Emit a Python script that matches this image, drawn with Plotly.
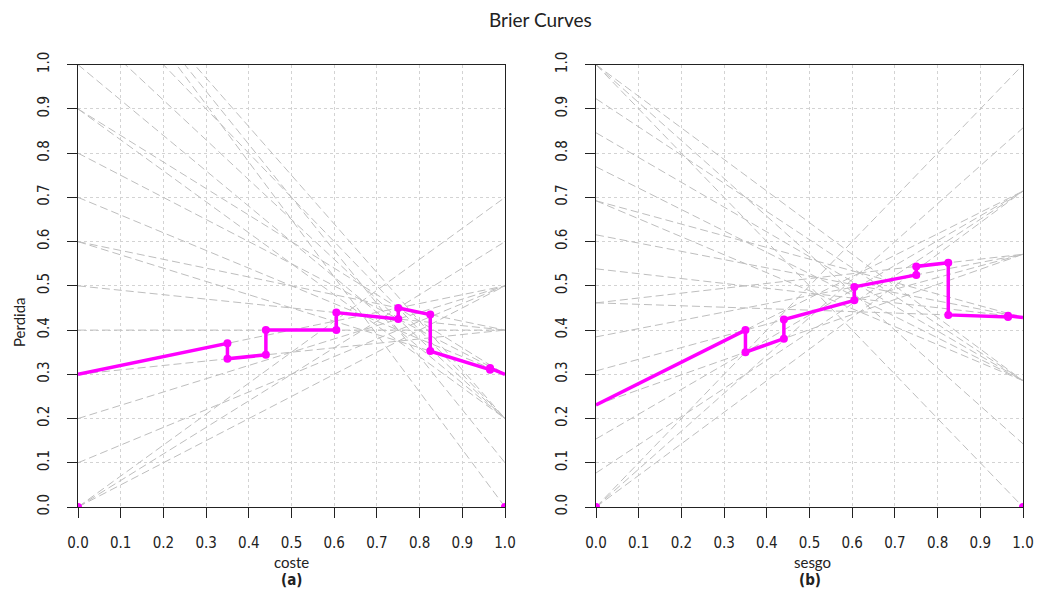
import plotly.graph_objects as go

# Example scores and their true classes (1 = positive), ordered by score
scores = [0, 0, 0, 0, 0, 0.35, 0.44, 0.605, 0.75, 0.825, 0.965, 1, 1, 1, 1, 1, 1, 1, 1, 1]
labels = [0, 0, 1, 1, 1, 0, 1, 1, 1, 0, 1, 1, 1, 0, 1, 1, 1, 1, 0, 0]

tick_vals = [0.0, 0.1, 0.2, 0.3, 0.4, 0.5, 0.6, 0.7, 0.8, 0.9, 1.0]
tick_text = ["0.0", "0.1", "0.2", "0.3", "0.4", "0.5", "0.6", "0.7", "0.8", "0.9", "1.0"]

n = len(labels)
n1 = sum(labels)
n0 = n - n1

W, H = 1037, 594
LEFT_X = (78, 505)
RIGHT_X = (596, 1023)
PLOT_Y = (64.7, 507)

GRAY = "#BEBEBE"
MAGENTA = "#FF00FF"
NARROW = "Liberation Sans Narrow, DejaVu Sans Condensed, Arial Narrow, Liberation Sans, Arial"
TICK_FONT = dict(family=NARROW, size=15, color="#222")
LABEL_FONT = "Lato, Open Sans, sans-serif"


def px_x(a, b):
    return [a / W, b / W]


def px_y(top, bottom):
    return [(H - bottom) / H, (H - top) / H]


# cumulative counts along the ranking: positives below / negatives above each cut
pos_below = [0]
neg_above = [n0]
for lab in labels:
    if lab == 1:
        pos_below.append(pos_below[-1] + 1)
        neg_above.append(neg_above[-1])
    else:
        pos_below.append(pos_below[-1])
        neg_above.append(neg_above[-1] - 1)


def cost_loss(c, k, j):
    return (1 - c) * 2 * k / n + c * 2 * j / n


def skew_loss(z, k, j):
    return (1 - z) * k / n1 + z * j / n0


def brier_curve(loss):
    uniq = sorted(set(scores))
    xs, ys, mx, my = [], [], [], []
    for i in range(len(uniq) - 1):
        t0, t1 = uniq[i], uniq[i + 1]
        k = sum(1 for s, l in zip(scores, labels) if l == 1 and s <= t0)
        j = sum(1 for s, l in zip(scores, labels) if l == 0 and s > t0)
        xs += [t0, t1]
        ys += [loss(t0, k, j), loss(t1, k, j)]
        if i > 0:
            mx.append(t0)
            my.append(loss(t0, k, j))
        if i < len(uniq) - 2:
            mx.append(t1)
            my.append(loss(t1, k, j))
    # curve values at the extremes of the threshold range
    k0 = sum(1 for s, l in zip(scores, labels) if l == 1 and s < uniq[0])
    j0 = sum(1 for s, l in zip(scores, labels) if l == 0 and s > uniq[0])
    k1 = sum(1 for s, l in zip(scores, labels) if l == 1 and s < uniq[-1])
    j1 = sum(1 for s, l in zip(scores, labels) if l == 0 and s > uniq[-1])
    mx += [uniq[0], uniq[-1]]
    my += [loss(uniq[0], k0, j0), loss(uniq[-1], k1, j1)]
    return xs, ys, mx, my


fig = go.Figure()

panels = [("x", "y", cost_loss), ("x2", "y2", skew_loss)]
for xa, ya, loss in panels:
    for k, j in zip(pos_below, neg_above):
        fig.add_trace(go.Scatter(
            x=[0, 1], y=[loss(0, k, j), loss(1, k, j)], mode="lines",
            line=dict(color=GRAY, width=1, dash="8px,4px"),
            xaxis=xa, yaxis=ya, showlegend=False, hoverinfo="skip"))
    bx, by, mx, my = brier_curve(loss)
    fig.add_trace(go.Scatter(
        x=bx, y=by, mode="lines", line=dict(color=MAGENTA, width=3.5),
        xaxis=xa, yaxis=ya, showlegend=False))
    fig.add_trace(go.Scatter(
        x=mx, y=my, mode="markers", marker=dict(color=MAGENTA, size=8),
        xaxis=xa, yaxis=ya, showlegend=False))

axis_common = dict(
    range=[0, 1], tickvals=tick_vals, ticktext=tick_text,
    ticks="outside", ticklen=10, tickcolor="#222", tickwidth=1,
    showline=True, linecolor="#222", linewidth=1, mirror=True,
    showgrid=True, gridcolor="#D3D3D3", griddash="dot", gridwidth=1,
    zeroline=False, tickfont=TICK_FONT, ticklabelstandoff=12,
    automargin=False,
)

fig.update_layout(
    width=W, height=H, autosize=False,
    margin=dict(l=0, r=0, t=0, b=0, autoexpand=False),
    plot_bgcolor="white", paper_bgcolor="white",
    xaxis=dict(domain=px_x(*LEFT_X), anchor="y", **axis_common),
    yaxis=dict(domain=px_y(*PLOT_Y), anchor="x", tickangle=-90, **axis_common),
    xaxis2=dict(domain=px_x(*RIGHT_X), anchor="y2", **axis_common),
    yaxis2=dict(domain=px_y(*PLOT_Y), anchor="x2", tickangle=-90, **axis_common),
)

annotations = [
    dict(text="Brier Curves", x=540 / W, y=1 - 20 / H, font=dict(family=LABEL_FONT, size=19, color="#222")),
    dict(text="coste", x=291 / W, y=1 - 562 / H, font=dict(family=LABEL_FONT, size=15, color="#222")),
    dict(text="<b>(a)</b>", x=291 / W, y=1 - 580 / H, font=dict(family=NARROW, size=15, color="#222")),
    dict(text="sesgo", x=812 / W, y=1 - 562 / H, font=dict(family=LABEL_FONT, size=15, color="#222")),
    dict(text="<b>(b)</b>", x=810 / W, y=1 - 580 / H, font=dict(family=NARROW, size=15, color="#222")),
    dict(text="Perdida", x=19 / W, y=1 - 322 / H, textangle=-90, font=dict(family=LABEL_FONT, size=15, color="#222")),
]
for a in annotations:
    a.update(xref="paper", yref="paper", showarrow=False, xanchor="center", yanchor="middle")
fig.update_layout(annotations=annotations)

fig.write_html("out.html")
